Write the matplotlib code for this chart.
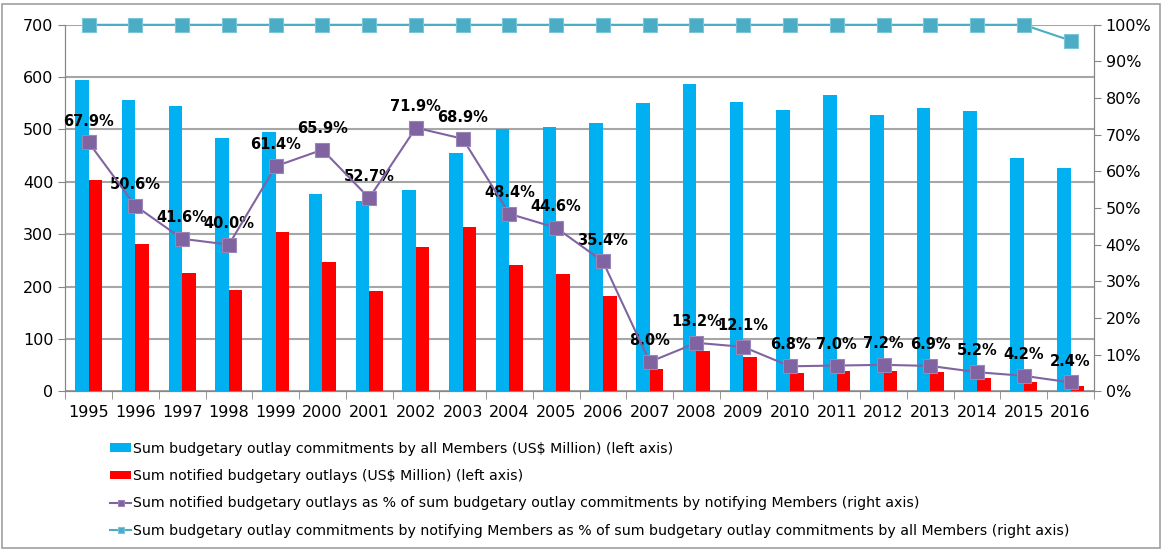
import numpy as np
import matplotlib
matplotlib.use("Agg")
import matplotlib.pyplot as plt
from matplotlib.patches import Rectangle

years = [str(y) for y in range(1995, 2017)]
commitments_all = [595, 557, 545, 484, 495, 376, 364, 384, 456, 500, 504, 513,
                   551, 586, 553, 537, 566, 528, 541, 535, 446, 427]
notified = [403, 281, 226, 193, 304, 247, 191, 275, 313, 241, 223, 181,
            43, 76, 66, 35, 38, 38, 36, 26, 17, 9]
notified_pct = [67.9, 50.6, 41.6, 40.0, 61.4, 65.9, 52.7, 71.9, 68.9, 48.4, 44.6, 35.4,
                8.0, 13.2, 12.1, 6.8, 7.0, 7.2, 6.9, 5.2, 4.2, 2.4]
notifying_share_pct = [100] * 21 + [95.7]

labels = [
    "Sum budgetary outlay commitments by all Members (US$ Million) (left axis)",
    "Sum notified budgetary outlays (US$ Million) (left axis)",
    "Sum notified budgetary outlays as % of sum budgetary outlay commitments by notifying Members (right axis)",
    "Sum budgetary outlay commitments by notifying Members as % of sum budgetary outlay commitments by all Members (right axis)",
]

BLUE = "#00B0F0"
RED = "#FF0000"
PURPLE = "#8064A2"
TEAL = "#4BACC6"
GRID = "#A6A6A6"

fig = plt.figure(figsize=(11.65, 5.51), dpi=100)
fig.patches.append(Rectangle((0.002, 0.005), 0.994, 0.988, transform=fig.transFigure,
                             fill=False, edgecolor="#A0A0A0", linewidth=1.2))
ax = fig.add_axes([0.056, 0.29, 0.883, 0.665])
ax2 = ax.twinx()

x = np.arange(len(years))
w = 0.29
b1 = ax.bar(x - w / 2, commitments_all, w, color=BLUE, zorder=3)
b2 = ax.bar(x + w / 2, notified, w, color=RED, zorder=3)

l1, = ax2.plot(x, notified_pct, color=PURPLE, marker="s", markersize=10,
               linewidth=1.5, markeredgecolor="#9A86B8", markeredgewidth=0.8, zorder=4)
l2, = ax2.plot(x, notifying_share_pct, color=TEAL, marker="s", markersize=10,
               linewidth=1.5, markeredgecolor="#7CC4D8", markeredgewidth=0.8,
               zorder=4, clip_on=False)

for xi, v in zip(x, notified_pct):
    ax2.annotate(f"{v:.1f}%", (xi, v), xytext=(0, 10), textcoords="offset points",
                 ha="center", va="bottom", fontsize=10.5, fontweight="bold", color="black")

ax.set_xlim(-0.5, len(years) - 0.5)
ax.set_ylim(0, 700)
ax.set_yticks(range(0, 701, 100))
ax2.set_ylim(0, 100)
ax2.set_yticks(range(0, 101, 10))
ax2.set_yticklabels([f"{v}%" for v in range(0, 101, 10)])

ax.set_xticks(x)
ax.set_xticklabels(years)
ax.set_xticks(np.arange(-0.5, len(years)), minor=True)
ax.tick_params(axis="x", which="major", length=0, pad=10, labelsize=11.5)
ax.tick_params(axis="x", which="minor", length=6, color="#868686", direction="out")
ax.tick_params(axis="y", length=5, color="#868686", labelsize=11.5)
ax2.tick_params(axis="y", length=5, color="#868686", labelsize=11.5)

ax.yaxis.grid(True, color=GRID, linewidth=1.5, zorder=0)
ax.set_axisbelow(True)
for a in (ax, ax2):
    a.spines["top"].set_visible(False)
    for side in ("left", "right", "bottom"):
        a.spines[side].set_color("#868686")

fig.legend([b1, b2, l1, l2], labels, loc="upper left", bbox_to_anchor=(0.0895, 0.209),
           frameon=False, fontsize=10.2, handlelength=1.5, handleheight=0.5,
           handletextpad=0.12, labelspacing=0.95, borderaxespad=0, markerscale=0.5)

fig.savefig("out.png", dpi=100)
